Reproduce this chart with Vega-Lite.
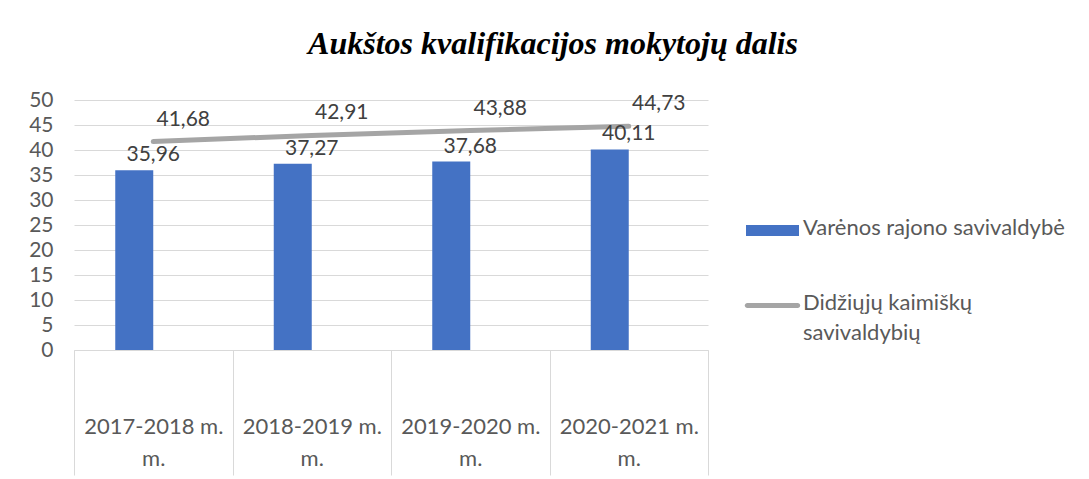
{
  "$schema": "https://vega.github.io/schema/vega-lite/v6.json",
  "width": 634,
  "height": 250,
  "autosize": {"type": "none"},
  "padding": {"left": 74, "top": 100, "right": 381, "bottom": 129},
  "background": "white",
  "title": {
    "text": "Aukštos kvalifikacijos mokytojų dalis",
    "font": "Liberation Serif",
    "fontSize": 32,
    "fontWeight": "bold",
    "fontStyle": "italic",
    "color": "black",
    "anchor": "middle",
    "frame": "group",
    "dx": 162,
    "offset": 28
  },
  "config": {
    "font": "Lato",
    "view": {"stroke": null},
    "locale": {"number": {"decimal": ",", "thousands": " ", "grouping": [3], "currency": ["", " €"]}}
  },
  "data": {
    "values": [
      {"year": "2017-2018 m. m.", "series": "Varėnos rajono savivaldybė", "value": 35.96},
      {"year": "2018-2019 m. m.", "series": "Varėnos rajono savivaldybė", "value": 37.27},
      {"year": "2019-2020 m. m.", "series": "Varėnos rajono savivaldybė", "value": 37.68},
      {"year": "2020-2021 m. m.", "series": "Varėnos rajono savivaldybė", "value": 40.11},
      {"year": "2017-2018 m. m.", "series": "Didžiųjų kaimiškų savivaldybių", "value": 41.68},
      {"year": "2018-2019 m. m.", "series": "Didžiųjų kaimiškų savivaldybių", "value": 42.91},
      {"year": "2019-2020 m. m.", "series": "Didžiųjų kaimiškų savivaldybių", "value": 43.88},
      {"year": "2020-2021 m. m.", "series": "Didžiųjų kaimiškų savivaldybių", "value": 44.73}
    ]
  },
  "encoding": {
    "x": {
      "field": "year",
      "type": "nominal",
      "sort": null,
      "scale": {"paddingInner": 0, "paddingOuter": 0},
      "axis": {
        "title": null,
        "labelAngle": 0,
        "grid": false,
        "domainColor": "#D9D9D9",
        "tickColor": "#D9D9D9",
        "tickSize": 125,
        "tickBand": "extent",
        "labelFont": "Lato",
        "labelFontSize": 22,
        "labelColor": "#595959",
        "labelPadding": -59,
        "labelLineHeight": 32,
        "labelOverlap": false,
        "labelLimit": 0,
        "labelExpr": "[substring(datum.label, 0, 12), substring(datum.label, 13)]"
      }
    },
    "y": {
      "field": "value",
      "type": "quantitative",
      "scale": {"domain": [0, 50]},
      "axis": {
        "title": null,
        "domain": false,
        "ticks": false,
        "values": [0, 5, 10, 15, 20, 25, 30, 35, 40, 45, 50],
        "labelPadding": 21,
        "labelFont": "Lato",
        "labelFontSize": 21,
        "labelColor": "#595959",
        "gridColor": "#D9D9D9",
        "gridWidth": 1
      }
    }
  },
  "layer": [
    {
      "transform": [{"filter": "datum.series === 'Varėnos rajono savivaldybė'"}],
      "mark": {"type": "bar", "width": 38, "xOffset": -19},
      "encoding": {
        "color": {
          "field": "series",
          "type": "nominal",
          "scale": {
            "domain": ["Varėnos rajono savivaldybė", "Didžiųjų kaimiškų savivaldybių"],
            "range": ["#4472C4", "#A5A5A5"]
          },
          "legend": {
            "title": null,
            "orient": "none",
            "legendX": 672,
            "legendY": 104,
            "labelFont": "Lato",
            "labelFontSize": 22,
            "labelColor": "#595959",
            "labelLimit": 400,
            "labelOffset": 4,
            "labelBaseline": "top",
            "symbolSize": 2809,
            "rowPadding": 40,
            "labelExpr": "datum.label === 'Didžiųjų kaimiškų savivaldybių' ? ['Didžiųjų kaimiškų', 'savivaldybių'] : datum.label",
            "encode": {
              "symbols": {
                "update": {
                  "shape": {"signal": "datum.value === 'Varėnos rajono savivaldybė' ? 'M-1,-0.21H1V0.21H-1Z' : 'M-0.95,-0.095H0.95A0.095,0.095 0 0 1 0.95,0.095H-0.95A0.095,0.095 0 0 1 -0.95,-0.095Z'"},
                  "fill": {"signal": "datum.value === 'Varėnos rajono savivaldybė' ? '#4472C4' : '#A5A5A5'"},
                  "stroke": {"value": "transparent"},
                  "strokeWidth": {"value": 0},
                  "opacity": {"value": 1}
                }
              },
              "labels": {
                "update": {"dy": {"value": -13}, "lineHeight": {"value": 30}}
              }
            }
          }
        }
      }
    },
    {
      "transform": [{"filter": "datum.series === 'Didžiųjų kaimiškų savivaldybių'"}],
      "mark": {"type": "line", "color": "#A5A5A5", "strokeWidth": 5, "strokeCap": "round"},
      "encoding": {}
    },
    {
      "transform": [{"filter": "datum.series === 'Varėnos rajono savivaldybė'"}],
      "mark": {"type": "text", "font": "Lato", "fontSize": 21, "color": "#404040", "align": "center", "baseline": "middle", "dx": 0, "dy": -15},
      "encoding": {
        "text": {"field": "value", "type": "quantitative", "format": ".2f"}
      }
    },
    {
      "transform": [{"filter": "datum.series === 'Didžiųjų kaimiškų savivaldybių'"}],
      "mark": {"type": "text", "font": "Lato", "fontSize": 21, "color": "#404040", "align": "center", "baseline": "middle", "dx": 30, "dy": -22},
      "encoding": {
        "text": {"field": "value", "type": "quantitative", "format": ".2f"}
      }
    }
  ]
}
